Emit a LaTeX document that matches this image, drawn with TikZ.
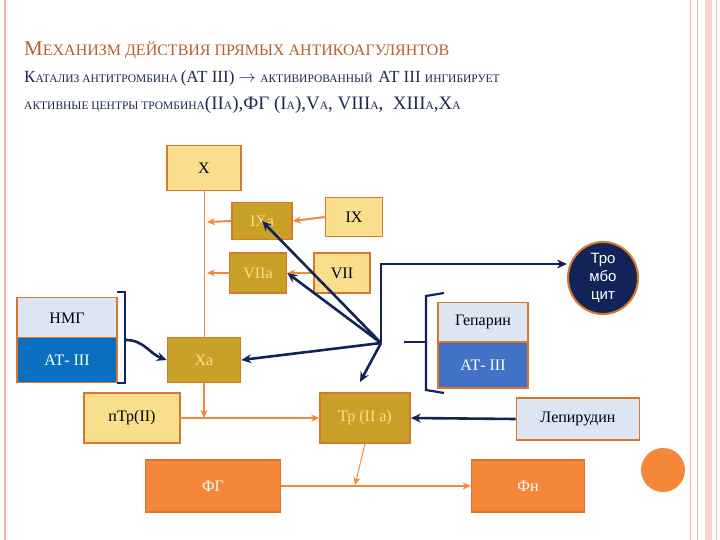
\documentclass[tikz,border=0pt]{standalone}
\usepackage{fontspec}
\setmainfont{Liberation Serif}
\newfontfamily\sansf{Liberation Sans}
\usetikzlibrary{arrows.meta,shapes.geometric}
\definecolor{ly}{HTML}{F9DE8E}
\definecolor{dg}{HTML}{C9A128}
\definecolor{bd}{HTML}{D9782A}
\definecolor{og}{HTML}{F5873A}
\definecolor{lb}{HTML}{DCE6F2}
\definecolor{bl}{HTML}{0B6FC0}
\definecolor{mb}{HTML}{4272C8}
\definecolor{nv}{HTML}{13235A}
\definecolor{pk}{HTML}{F4B6A6}
\definecolor{tt}{HTML}{B8622A}
\definecolor{st}{HTML}{1C2A50}
\begin{document}
\begin{tikzpicture}[x=1pt,y=-1pt,
 bx/.style={draw=bd,line width=1.6pt,minimum width=#1,inner sep=0pt,font=\fontsize{16}{16}\selectfont},
 yb/.style={bx=#1,fill=ly},
 gb/.style={bx=#1,fill=dg,text=ly},
 ob/.style={bx=#1,fill=og,text=white},
 oa/.style={draw=og,line width=2pt,-{Stealth[length=8pt,width=7pt]}},
 ol/.style={draw=og,line width=1pt},
 na/.style={draw=nv,line width=2.6pt,-{Stealth[length=10pt,width=9pt]}}]
\useasboundingbox (0,0) rectangle (720,540);
\fill[white] (0,0) rectangle (720,540);
% page decoration
\draw[pk,line width=1.5pt] (5,0) -- (5,540);
\draw[pk,line width=1pt] (690,0) -- (690,540);
\draw[pk,line width=1pt] (697,0) -- (697,540);
\fill[pk!60] (705,0) rectangle (712,540);
\draw[pk,line width=1pt] (716,0) -- (716,540);
% titles
\node[anchor=west,text=tt,inner sep=0pt] (t1) at (24,50) {\fontsize{21}{21}\selectfont М\fontsize{16}{16}\selectfont ЕХАНИЗМ ДЕЙСТВИЯ ПРЯМЫХ АНТИКОАГУЛЯНТОВ};
\node[anchor=west,text=st,inner sep=0pt] (t2) at (24,78) {\fontsize{17}{17}\selectfont К\fontsize{11.5}{11.5}\selectfont АТАЛИЗ АНТИТРОМБИНА \fontsize{17}{17}\selectfont(АТ III) $\rightarrow$ \fontsize{11.5}{11.5}\selectfont АКТИВИРОВАННЫЙ \ \fontsize{17}{17}\selectfont АТ III \fontsize{11.5}{11.5}\selectfont ИНГИБИРУЕТ};
\node[anchor=west,text=st,inner sep=0pt] (t3) at (24,105) {\fontsize{11.5}{11.5}\selectfont АКТИВНЫЕ ЦЕНТРЫ ТРОМБИНА\fontsize{19}{19}\selectfont(II\fontsize{11.5}{11.5}\selectfont А\fontsize{19}{19}\selectfont),ФГ (I\fontsize{11.5}{11.5}\selectfont А\fontsize{19}{19}\selectfont),V\fontsize{11.5}{11.5}\selectfont А\fontsize{19}{19}\selectfont, VIII\fontsize{11.5}{11.5}\selectfont А\fontsize{19}{19}\selectfont, \ XIII\fontsize{11.5}{11.5}\selectfont А\fontsize{19}{19}\selectfont,X\fontsize{11.5}{11.5}\selectfont А};
% boxes
\node[yb=74pt,minimum height=45pt] (X) at (204,168) {X};
\node[gb=60pt,minimum height=37pt] (IXa) at (262,221) {IXa};
\node[yb=57pt,minimum height=39pt] (IX) at (354,217) {IX};
\node[gb=57pt,minimum height=40pt] (VIIa) at (258,273) {VIIa};
\node[yb=56pt,minimum height=40pt] (VII) at (342,273) {VII};
\node[draw=bd,fill=nv,text=white,ellipse,minimum width=70pt,minimum height=72pt,inner sep=0pt,line width=2pt,align=center,font=\sansf\fontsize{15}{18}\selectfont] (Tr) at (603,278) {Тро\\мбо\\цит};
\node[bx=100pt,fill=lb,minimum height=41pt] (NMG) at (67,318) {НМГ};
\node[bx=100pt,fill=bl,text=white,minimum height=45pt] (AT1) at (67,360) {АТ- III};
\node[gb=73pt,minimum height=45pt] (Xa) at (204,360) {Xa};
\node[yb=96pt,minimum height=50pt] (pTr) at (132,418) {пТр(II)};
\node[gb=90pt,minimum height=50pt] (Tp) at (365,418) {Тр (II а)};
\node[bx=90pt,fill=lb,minimum height=39pt] (Hep) at (483,322) {Гепарин};
\node[bx=90pt,fill=mb,text=white,minimum height=46pt] (AT2) at (483,365) {АТ- III};
\node[bx=123pt,fill=lb,minimum height=42pt] (Lep) at (578,419) {Лепирудин};
\node[ob=135pt,minimum height=52pt] (FG) at (213,486) {ФГ};
\node[ob=113pt,minimum height=52pt] (Fn) at (528,486) {Фн};
\node[circle,fill=og,minimum size=44pt,inner sep=0pt] (oc) at (663,470) {};
% brackets
\draw[nv,line width=2.2pt] (117,292) -- (125,292) -- (125,383) -- (117,383);
\draw[nv,line width=2.2pt] (444,293) -- (426,296) -- (426,390) -- (444,393);
\draw[nv,line width=2.2pt] (404,342) -- (426,342);
% orange connectors
\coordinate (j3) at (204,418);
\coordinate (j4) at (355,485);
\draw[ol] (X.south) -- (Xa.north);
\draw[oa] (IXa.west) -- (207,222);
\draw[oa] (VIIa.west) -- (207,273);
\draw[oa] (IX.west) -- (IXa.east);
\draw[oa] (VII.west) -- (VIIa.east);
\draw[oa] (Xa.south) -- (j3);
\draw[oa] (pTr.east) -- (Tp.west);
\draw[ol,-{Stealth[length=8pt,width=7pt]}] (Tp.south) -- (j4);
\draw[oa] (FG.east) -- (Fn.west);
% navy connectors
\coordinate (h) at (381,343);
\coordinate (ht) at (381,264);
\coordinate (tp) at (360,382);
\draw[na] (h) -- (IXa.center);
\draw[na] (h) -- (VIIa.east);
\draw[na] (h) -- (Xa.east);
\draw[na] (h) -- (tp);
\draw[na] (h) -- (ht) -- (Tr.west |- ht);
\draw[na] (126,340) to[out=0,in=160] (Xa.west);
\draw[na] (Lep.west) -- (Tp.east);
\end{tikzpicture}
\end{document}
